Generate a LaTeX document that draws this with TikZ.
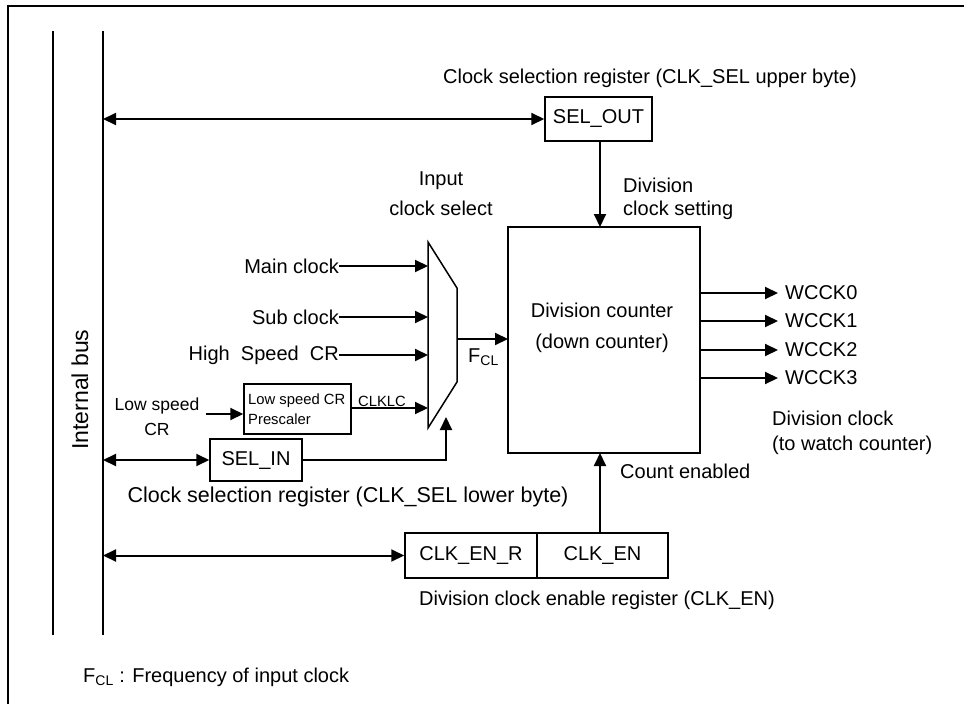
\documentclass[tikz,border=0pt]{standalone}
\usepackage{fontspec}
\setmainfont{Liberation Sans}
\usetikzlibrary{arrows.meta}
\newcommand{\fmain}{\fontsize{20}{23}\selectfont}
\newcommand{\fwide}{\fontsize{21.5}{25}\selectfont}
\newcommand{\fbus}{\fontsize{23}{27}\selectfont}
\newcommand{\fmid}{\fontsize{17.5}{25}\selectfont}
\newcommand{\fsmall}{\fontsize{14.8}{20}\selectfont}
\begin{document}
\begin{tikzpicture}[x=1pt,y=-1pt,
  box/.style={draw,line width=1.5pt,inner sep=0pt,font=\fmain},
  conn/.style={line width=2pt,-{Triangle[length=13pt,width=12pt]}},
  dconn/.style={line width=2pt,{Triangle[length=13pt,width=12pt]}-{Triangle[length=13pt,width=12pt]}},
  lbl/.style={inner sep=0pt,font=\fmain},
  frame/.style={line width=2pt},
  bus/.style={line width=1.4pt},
]
\useasboundingbox (0,0) rectangle (964,704);
% frame
\coordinate (fA) at (8.3,704);
\coordinate (fB) at (8.3,5.7);
\coordinate (fC) at (964,5.7);
\draw[frame] (fA) -- (fB) -- (fC);
% bus lines
\coordinate (b1t) at (53,31);
\coordinate (b1b) at (53,635);
\coordinate (b2t) at (103,31);
\coordinate (b2b) at (103,635);
\draw[bus] (b1t) -- (b1b);
\draw[bus] (b2t) -- (b2b);
\node[inner sep=0pt,font=\fbus,rotate=90,anchor=west] (ib) at (80,450) {Internal bus};

% SEL_OUT
\node[box,minimum width=107pt,minimum height=44pt] (selout) at (598.5,119) {SEL\_OUT};
\node[lbl] (seloutl) at (650,78) {Clock selection register (CLK\_SEL upper byte)};
\coordinate (busA) at (103,119);
\draw[dconn] (busA) -- (selout.west);

% counter
\node[box,minimum width=192pt,minimum height=226pt] (cnt) at (604,340) {};
\node[lbl] (cntl1) at (602,310) {Division counter};
\node[lbl] (cntl2) at (602,343) {(down counter)};
\coordinate (cntTop) at (600,227);
\coordinate (selBot) at (600,141);
\draw[conn] (selBot) -- (cntTop);
\node[lbl,anchor=west] (dcs1) at (623,185) {Division};
\node[lbl,anchor=west] (dcs2) at (623,210) {clock setting};

% outputs
\foreach \i/\yy in {0/293,1/321,2/350,3/378}{
  \coordinate (o\i) at (700,\yy);
  \coordinate (oe\i) at (778,\yy);
  \draw[conn] (o\i) -- (oe\i);
  \node[lbl,anchor=west] (w\i) at (785,\yy) {WCCK\i};
}
\node[lbl,anchor=west] (dc1) at (772,418) {Division clock};
\node[lbl,anchor=west] (dc2) at (772,445) {(to watch counter)};

% mux
\coordinate (mA) at (428,242);
\coordinate (mB) at (457,288);
\coordinate (mC) at (457,382);
\coordinate (mD) at (428,428);
\draw[line width=1.5pt] (mA) -- (mB) -- (mC) -- (mD) -- cycle;
\node[lbl] (is1) at (441,181) {Input};
\node[lbl] (is2) at (441,208) {clock select};

\coordinate (mo) at (457,339);
\coordinate (ci) at (508,339);
\draw[conn] (mo) -- (ci);
\node[lbl,anchor=west] (fcl) at (468,357) {F\textsubscript{CL}};

% inputs
\node[lbl,anchor=east] (mc) at (339,266) {Main clock};
\node[lbl,anchor=east] (sc) at (339,317) {Sub clock};
\node[lbl,anchor=east] (hs) at (339,355) {High\ \ Speed\ \ CR};
\coordinate (m1) at (428,266);
\coordinate (m2) at (428,317);
\coordinate (m3) at (428,355);
\coordinate (m4) at (428,408);
\draw[conn] (mc.east) -- (m1);
\draw[conn] (sc.east) -- (m2);
\draw[conn] (hs.east) -- (m3);

% prescaler
\node[box,minimum width=107pt,minimum height=50pt] (pre) at (297.5,409) {};
\node[inner sep=0pt,font=\fsmall,align=left,anchor=west] (pret) at (248,409) {Low speed CR\\Prescaler};
\coordinate (preE) at (351,408);
\draw[conn] (preE) -- (m4);
\node[inner sep=0pt,font=\fsmall,anchor=south] (clklc) at (382,407) {CLKLC};
\node[inner sep=0pt,font=\fmid,align=center] (lscr) at (157,417) {Low speed\\CR};
\coordinate (lsA) at (206,414);
\draw[conn] (lsA) -- (lsA -| pre.west);

% SEL_IN
\node[box,minimum width=92pt,minimum height=42pt] (selin) at (256,460) {SEL\_IN};
\coordinate (busB) at (103,460);
\draw[dconn] (busB) -- (selin.west);
\coordinate (selC) at (446,460);
\coordinate (selD) at (446,417);
\draw[conn] (selin.east) -- (selC) -- (selD);
\node[inner sep=0pt,font=\fwide] (selinl) at (348,497) {Clock selection register (CLK\_SEL lower byte)};

% CLK_EN
\node[box,minimum width=132pt,minimum height=45pt] (clkenr) at (471,555.5) {CLK\_EN\_R};
\node[box,minimum width=131pt,minimum height=45pt] (clken) at (602.5,555.5) {CLK\_EN};
\coordinate (ceTop) at (600,533);
\coordinate (cntBot) at (600,453);
\draw[conn] (ceTop) -- (cntBot);
\node[lbl,anchor=west] (ce) at (620,471) {Count enabled};
\coordinate (busC) at (103,555.5);
\draw[dconn] (busC) -- (clkenr.west);
\node[lbl] (cenl) at (597,600) {Division clock enable register (CLK\_EN)};

% footnote
\node[lbl,anchor=west] (fn) at (83,677) {F\textsubscript{CL} : Frequency of input clock};
\end{tikzpicture}
\end{document}
